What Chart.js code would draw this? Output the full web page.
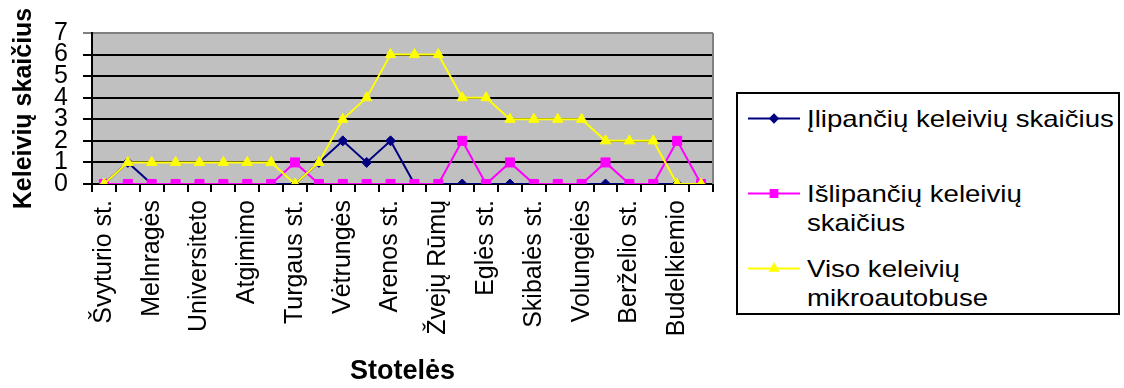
<!DOCTYPE html>
<html>
<head>
<meta charset="utf-8">
<script src="https://cdn.jsdelivr.net/npm/chart.js@4.4.1/dist/chart.umd.min.js"></script>
<style>
  body { margin: 0; background: #fff; }
  #wrap { position: relative; width: 1124px; height: 388px; overflow: hidden; }
  #legend {
    position: absolute; left: 736px; top: 92px; width: 380px; height: 219px;
    border: 2px solid #000; background: #fff; box-sizing: content-box;
    font-family: 'Liberation Sans', Arial, sans-serif; font-size: 24px; color: #000;
  }
  .item { position: absolute; left: 0; height: 75px; width: 380px; }
  .item canvas { position: absolute; left: 9px; top: 0; }
  .item span {
    position: absolute; left: 69px; top: 0; width: 268px; line-height: 29px;
    transform: scaleX(1.15); transform-origin: left top;
  }
</style>
</head>
<body>
<div id="wrap">
  <canvas id="chart" width="1124" height="388"></canvas>
  <div id="legend"></div>
</div>
<script>
// stotelės (every second name is not printed on the axis)
const stops = ['Švyturio st.', '', 'Melnragės', '', 'Universiteto', '', 'Atgimimo', '', 'Turgaus st.', '',
  'Vėtrungės', '', 'Arenos st.', '', 'Žvejų Rūmų', '', 'Eglės st.', '', 'Skibalės st.', '',
  'Volungėlės', '', 'Berželio st.', '', 'Budelkiemio', ''];
const boarding  = [0, 1, 0, 0, 0, 0, 0, 0, 0, 1, 2, 1, 2, 0, 0, 0, 0, 0, 0, 0, 0, 0, 0, 0, 0, 0];
const alighting = [0, 0, 0, 0, 0, 0, 0, 0, 1, 0, 0, 0, 0, 0, 0, 2, 0, 1, 0, 0, 0, 1, 0, 0, 2, 0];
const onBoard   = [0, 1, 1, 1, 1, 1, 1, 1, 0, 1, 3, 4, 6, 6, 6, 4, 4, 3, 3, 3, 3, 2, 2, 2, 0, 0];
const yTicks = [0, 1, 2, 3, 4, 5, 6, 7];

const font = "'Liberation Sans', Arial, sans-serif";

const plotBg = {
  id: 'plotBg',
  beforeDraw(chart) {
    const a = chart.chartArea, ctx = chart.ctx;
    ctx.save();
    ctx.fillStyle = '#c0c0c0';
    ctx.fillRect(a.left, a.top, a.right - a.left, a.bottom - a.top);
    ctx.restore();
  },
  beforeDatasetsDraw(chart) {
    const a = chart.chartArea, ctx = chart.ctx;
    ctx.save();
    ctx.strokeStyle = '#808080';
    ctx.lineWidth = 2;
    ctx.beginPath();
    ctx.moveTo(a.right, a.top);
    ctx.lineTo(a.right, a.bottom);
    ctx.stroke();
    ctx.restore();
  }
};

const chart = new Chart("chart", {
  type: "line",
  data: {
    labels: stops,
    datasets: [{
      label: "Įlipančių keleivių skaičius",
      data: boarding,
      borderColor: '#000080',
      backgroundColor: '#000080',
      borderWidth: 2,
      pointStyle: 'rectRot',
      pointRadius: 5,
      pointBorderWidth: 1,
      order: 3
    }, {
      label: "Išlipančių keleivių skaičius",
      data: alighting,
      borderColor: '#ff00ff',
      backgroundColor: '#ff00ff',
      borderWidth: 2,
      pointStyle: 'rect',
      pointRadius: 6.4,
      pointBorderWidth: 1,
      order: 2
    }, {
      label: "Viso keleivių mikroautobuse",
      data: onBoard,
      borderColor: '#ffff00',
      backgroundColor: '#ffff00',
      borderWidth: 2,
      pointStyle: 'triangle',
      pointRadius: 6,
      pointBorderWidth: 1,
      order: 1
    }]
  },
  options: {
    responsive: false,
    animation: false,
    events: [],
    layout: { padding: { top: 33, right: 411, left: 0, bottom: 0 } },
    plugins: {
      legend: { display: false },
      title: { display: false },
      tooltip: { enabled: false }
    },
    scales: {
      x: {
        offset: true,
        afterFit(scale) { scale.height = 204; },
        grid: { offset: true, drawOnChartArea: false, drawTicks: true, tickLength: 8, color: '#000', lineWidth: 2 },
        border: { color: '#000', width: 2 },
        ticks: {
          autoSkip: false, minRotation: 90, maxRotation: 90, padding: 8,
          color: '#000', font: { family: font, size: 25 }
        },
        title: {
          display: true, text: 'Stotelės', color: '#000',
          font: { family: font, size: 27, weight: 'bold' },
          padding: { top: 0, bottom: 0 }
        }
      },
      y: {
        min: yTicks[0],
        max: yTicks[yTicks.length - 1],
        afterFit(scale) { scale.width = 92; },
        afterBuildTicks(scale) { scale.ticks = yTicks.map(v => ({ value: v })); },
        grid: {
          tickLength: 9, lineWidth: 2,
          color: ctx => ctx.tick && ctx.tick.value === 7 ? '#808080' : '#000'
        },
        border: { color: '#000', width: 2 },
        ticks: {
          autoSkip: false, stepSize: 1, padding: 15, color: '#000',
          font: { family: font, size: 25 }
        },
        title: {
          display: true, text: 'Keleivių skaičius', color: '#000',
          font: { family: font, size: 25, weight: 'bold' },
          padding: { top: 9, bottom: 0 }
        }
      }
    }
  },
  plugins: [plotBg]
});

// legend in a box, built from the datasets
const legend = document.getElementById('legend');
chart.data.datasets.forEach((ds, i) => {
  const item = document.createElement('div');
  item.className = 'item';
  item.style.top = (10 + i * 75) + 'px';
  const c = document.createElement('canvas');
  c.width = 54; c.height = 29;
  const ctx = c.getContext('2d');
  ctx.strokeStyle = ds.borderColor;
  ctx.lineWidth = 2;
  ctx.beginPath();
  ctx.moveTo(1, 14.5);
  ctx.lineTo(53, 14.5);
  ctx.stroke();
  ctx.fillStyle = ds.backgroundColor;
  Chart.helpers.drawPoint(ctx, {
    pointStyle: ds.pointStyle, radius: ds.pointRadius * 0.75, rotation: 0, borderWidth: 1
  }, 27, 14.5);
  const s = document.createElement('span');
  s.textContent = ds.label;
  item.appendChild(c);
  item.appendChild(s);
  legend.appendChild(item);
});
</script>
</body>
</html>
